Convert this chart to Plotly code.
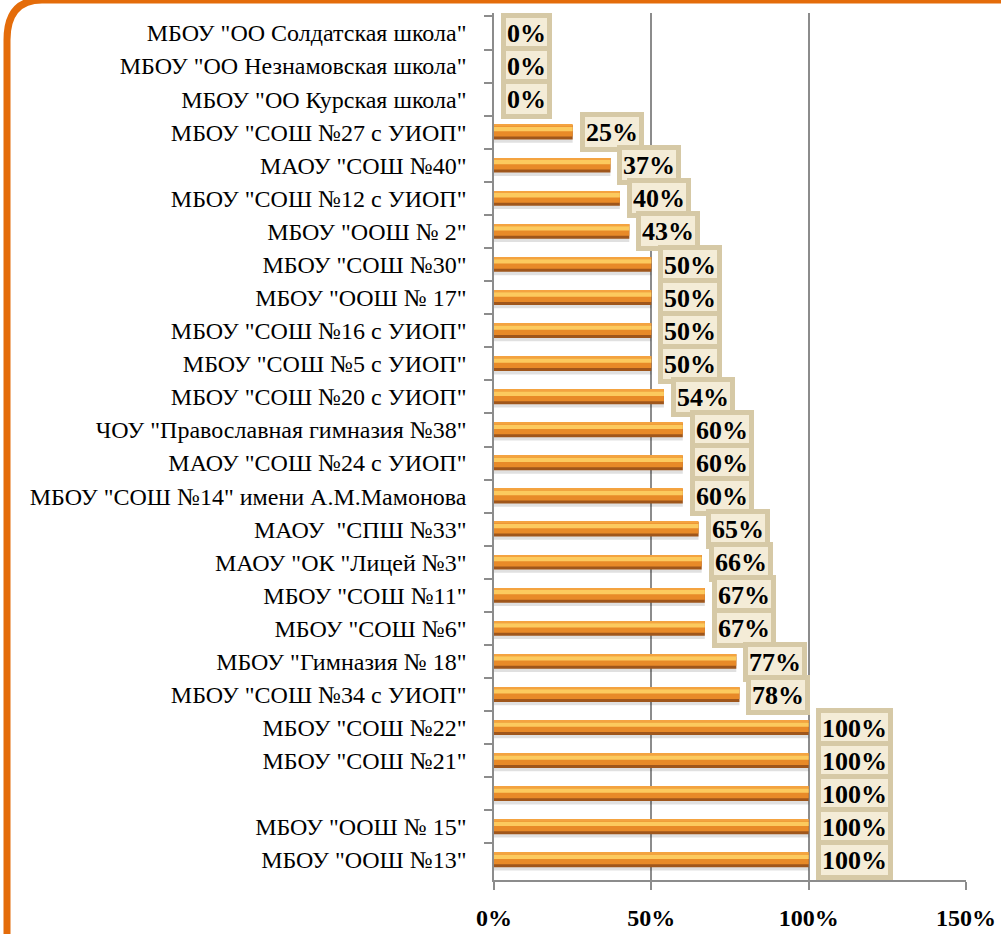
import plotly.graph_objects as go

schools = [
    'МБОУ "ОО Солдатская школа"',
    'МБОУ "ОО Незнамовская школа"',
    'МБОУ "ОО Курская школа"',
    'МБОУ "СОШ №27 с УИОП"',
    'МАОУ "СОШ №40"',
    'МБОУ "СОШ №12 с УИОП"',
    'МБОУ "ООШ № 2"',
    'МБОУ "СОШ №30"',
    'МБОУ "ООШ № 17"',
    'МБОУ "СОШ №16 с УИОП"',
    'МБОУ "СОШ №5 с УИОП"',
    'МБОУ "СОШ №20 с УИОП"',
    'ЧОУ "Православная гимназия №38"',
    'МАОУ "СОШ №24 с УИОП"',
    'МБОУ "СОШ №14" имени А.М.Мамонова',
    'МАОУ  "СПШ №33"',
    'МАОУ "ОК "Лицей №3"',
    'МБОУ "СОШ №11"',
    'МБОУ "СОШ №6"',
    'МБОУ "Гимназия № 18"',
    'МБОУ "СОШ №34 с УИОП"',
    'МБОУ "СОШ №22"',
    'МБОУ "СОШ №21"',
    ' ',
    'МБОУ "ООШ № 15"',
    'МБОУ "ООШ №13"',
]
values = [0, 0, 0, 25, 37, 40, 43, 50, 50, 50, 50, 54, 60, 60, 60, 65, 66, 67, 67, 77, 78,
          100, 100, 100, 100, 100]
x_ticks = [0, 50, 100, 150]
x_tick_labels = ["0%", "50%", "100%", "150%"]

W, H = 1001, 934
L, R, T, B = 494, 35, 13, 54
PW, PH = W - L - R, H - T - B
SERIF = "Times New Roman, Liberation Serif, serif"

fig = go.Figure()

layers = [
    # (offset, width, color)
    (-0.14, 0.46, "rgba(0,0,0,0.12)"),
    (-0.22, 0.44, "#9f561b"),
    (-0.22, 0.35, "#e88a28"),
    (-0.22, 0.05, "#f4a340"),
    (-0.16, 0.13, "#fcca5e"),
]
for off, wd, col in layers:
    fig.add_trace(go.Bar(
        y=schools, x=values, orientation="h",
        offset=off, width=wd,
        marker=dict(color=col, line=dict(width=0)),
        hoverinfo="skip", showlegend=False,
    ))

for s, v in zip(schools, values):
    fig.add_annotation(
        x=v, y=s, xref="x", yref="y",
        text=f"<b>{v}%</b>", showarrow=False,
        xanchor="left", xshift=7, height=28,
        font=dict(family=SERIF, size=26, color="black"),
        bgcolor="#f4ecd7", bordercolor="#d6c9a6", borderwidth=5, borderpad=1,
    )

fig.update_layout(
    width=W, height=H,
    margin=dict(l=L, r=R, t=T, b=B, autoexpand=False),
    paper_bgcolor="white", plot_bgcolor="white",
    barmode="overlay",
    xaxis=dict(
        range=[0, 150], tickvals=x_ticks, ticktext=x_tick_labels,
        showgrid=True, gridcolor="#8c8c8c", gridwidth=1.5,
        zeroline=False, showline=True, linecolor="#8c8c8c", linewidth=1.5,
        ticks="outside", ticklen=8, tickcolor="#8c8c8c", tickwidth=1.5,
        ticklabelstandoff=7, automargin=False,
        tickfont=dict(family=SERIF, size=24, color="black", weight="bold"),
    ),
    yaxis=dict(
        autorange="reversed", type="category",
        showline=True, linecolor="#8c8c8c", linewidth=1.5,
        ticks="outside", ticklen=8, tickcolor="#8c8c8c", tickwidth=1.5,
        tickson="boundaries", ticklabelstandoff=21, automargin=False,
        tickfont=dict(family=SERIF, size=24, color="black"),
    ),
)

def px2paper(px, py):
    return (px - L) / PW, (H - B - py) / PH

x0, y0 = px2paper(7, 960)
x1, y1 = px2paper(7, 40)
xc, yc = px2paper(7, 0)
x2, y2 = px2paper(42, 0)
x3, y3 = px2paper(1040, 0)
fig.add_shape(
    type="path", xref="paper", yref="paper",
    path=f"M {x0},{y0} L {x1},{y1} Q {xc},{yc} {x2},{y2} L {x3},{y3}",
    line=dict(color="#e46c0a", width=7), layer="above",
)

fig.write_html(
    "out.html",
    config={"displayModeBar": False},
    post_script="document.body.style.margin='0';document.body.style.overflow='hidden';",
)
